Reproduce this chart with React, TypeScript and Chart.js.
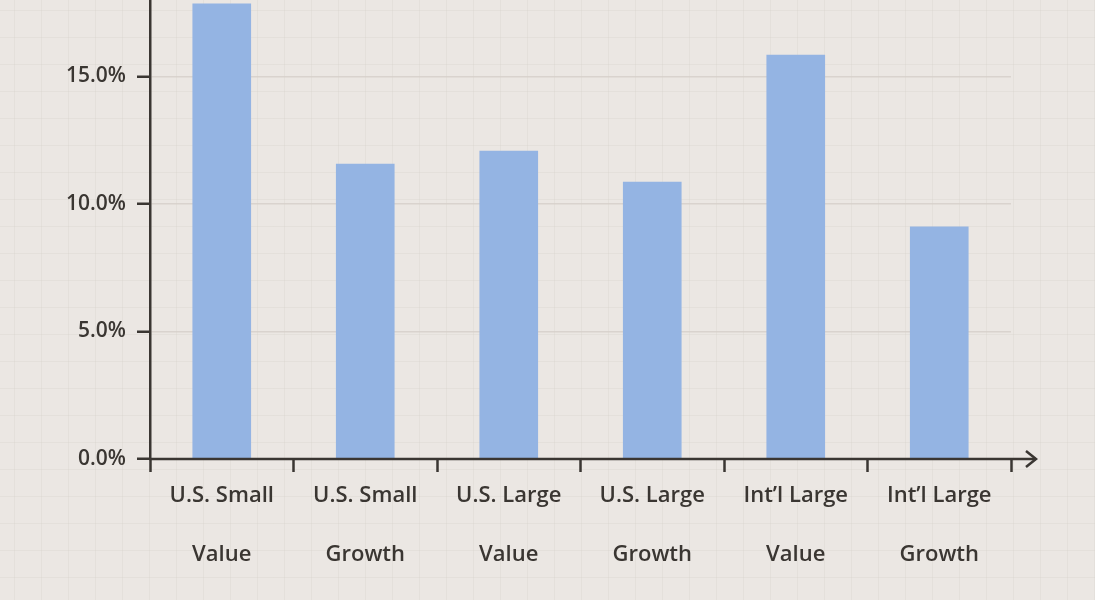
import React, { useEffect, useRef } from "react";
import { Chart, registerables } from "chart.js";

Chart.register(...registerables);

const categories: string[][] = [
  ["U.S. Small", "Value"],
  ["U.S. Small", "Growth"],
  ["U.S. Large", "Value"],
  ["U.S. Large", "Growth"],
  ["Int\u2019l Large", "Value"],
  ["Int\u2019l Large", "Growth"],
];
const returnsPct: number[] = [17.85, 11.57, 12.08, 10.86, 15.84, 9.1];
const yTickValues: number[] = [0, 5, 10, 15];

const BG = "#ebe7e3";
const INK = "#3a3632";
const BAR = "#94b4e3";
const FONT = "'Open Sans', Lato, sans-serif";

const backgroundPlugin = {
  id: "paperBg",
  beforeDraw(chart: any) {
    const { ctx, width, height } = chart;
    ctx.save();
    ctx.fillStyle = BG;
    ctx.fillRect(0, 0, width, height);
    ctx.strokeStyle = "rgba(205,199,193,0.22)";
    ctx.lineWidth = 1;
    for (let x = 14; x < width; x += 27) {
      ctx.beginPath();
      ctx.moveTo(x + 0.5, 0);
      ctx.lineTo(x + 0.5, height);
      ctx.stroke();
    }
    for (let y = 10; y < height; y += 27) {
      ctx.beginPath();
      ctx.moveTo(0, y + 0.5);
      ctx.lineTo(width, y + 0.5);
      ctx.stroke();
    }
    ctx.restore();
  },
};

const arrowAxisPlugin = {
  id: "arrowAxis",
  afterDatasetsDraw(chart: any) {
    const { ctx, chartArea } = chart;
    const y = chartArea.bottom;
    const endX = chartArea.right + 25;
    ctx.save();
    ctx.strokeStyle = INK;
    ctx.lineWidth = 2.5;
    ctx.lineCap = "butt";
    ctx.beginPath();
    ctx.moveTo(chartArea.left - 1, y);
    ctx.lineTo(endX, y);
    ctx.stroke();
    ctx.lineJoin = "miter";
    ctx.beginPath();
    ctx.moveTo(endX - 10, y - 8);
    ctx.lineTo(endX, y);
    ctx.lineTo(endX - 10, y + 8);
    ctx.stroke();
    ctx.restore();
  },
};

export default function App() {
  const canvasRef = useRef<HTMLCanvasElement | null>(null);

  useEffect(() => {
    document.body.style.margin = "0";
    const canvas = canvasRef.current;
    if (!canvas) return;
    const chart = new Chart(canvas, {
      type: "bar",
      data: {
        labels: categories,
        datasets: [
          {
            data: returnsPct,
            backgroundColor: BAR,
            borderWidth: 0,
            barThickness: 58,
          },
        ],
      },
      options: {
        animation: false,
        responsive: false,
        maintainAspectRatio: false,
        layout: { padding: { top: 0, right: 84, bottom: 0, left: 0 } },
        plugins: {
          legend: { display: false },
          tooltip: { enabled: false },
          title: { display: false },
        },
        scales: {
          x: {
            type: "category",
            offset: true,
            grid: {
              offset: true,
              display: true,
              drawOnChartArea: false,
              drawTicks: true,
              tickLength: 13,
              tickWidth: 2.5,
              tickColor: INK,
              color: "rgba(0,0,0,0)",
            },
            border: { display: false },
            ticks: {
              color: INK,
              font: { family: FONT, size: 22, weight: "600", lineHeight: 59 / 22 },
              padding: -6,
              maxRotation: 0,
              minRotation: 0,
              autoSkip: false,
            },
            afterFit(scale: any) {
              scale.height = 141;
              scale.paddingLeft = 0;
              scale.paddingRight = 0;
            },
          },
          y: {
            min: 0,
            max: 18,
            grid: {
              display: true,
              drawOnChartArea: true,
              drawTicks: true,
              tickLength: 13,
              tickWidth: 2.5,
              tickColor: INK,
              color: (c: any) =>
                c.tick && c.tick.value === 0 ? "rgba(0,0,0,0)" : "rgba(212,206,200,0.8)",
              lineWidth: 1.5,
            },
            border: { display: true, color: INK, width: 2.5 },
            ticks: {
              color: INK,
              font: { family: FONT, size: 21, weight: "600" },
              padding: 11,
              callback: (v: any) => Number(v).toFixed(1) + "%",
            },
            afterBuildTicks(scale: any) {
              scale.ticks = yTickValues.map((v) => ({ value: v }));
            },
            afterFit(scale: any) {
              scale.width = 150;
              scale.paddingTop = 0;
              scale.paddingBottom = 0;
            },
          },
        },
      },
      plugins: [backgroundPlugin, arrowAxisPlugin],
    });
    return () => chart.destroy();
  }, []);

  return (
    <div style={{ position: "absolute", left: 0, top: 0, width: 1095, height: 600, background: BG }}>
      <canvas ref={canvasRef} width={1095} height={600} style={{ display: "block" }} />
    </div>
  );
}
